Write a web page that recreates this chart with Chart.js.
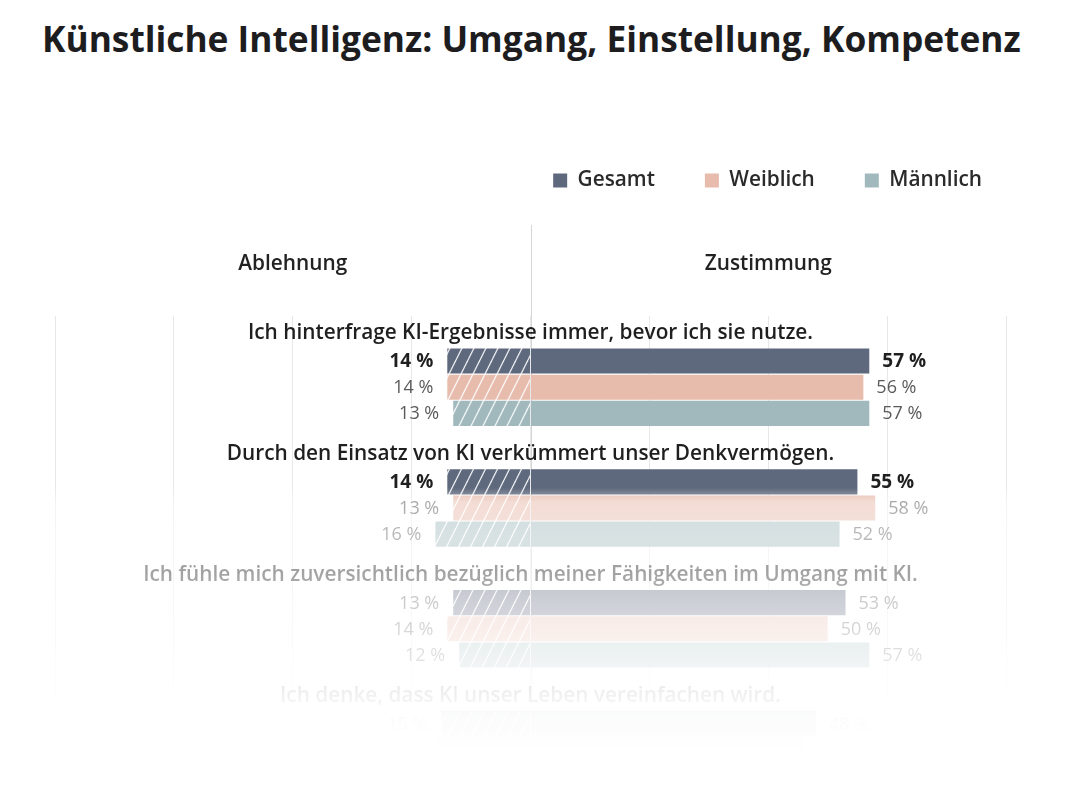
<!DOCTYPE html>
<html lang="de">
<head>
<meta charset="utf-8">
<script src="https://cdn.jsdelivr.net/npm/chart.js"></script>
<style>
  html, body { margin: 0; padding: 0; background: #fff; overflow: hidden; }
  body { width: 1080px; height: 800px; position: relative; }
  h1 {
    position: absolute; left: 42px; top: 14px; margin: 0;
    font-family: "Open Sans"; font-weight: 700; font-size: 35.3px;
    color: #1d1d1f; white-space: nowrap; letter-spacing: 0;
  }
  #wrap { position: absolute; left: 0; top: 0; width: 1080px; height: 810px; }
</style>
</head>
<body>
<h1>Künstliche Intelligenz: Umgang, Einstellung, Kompetenz</h1>
<div id="wrap"><canvas id="chart" width="1080" height="810"></canvas></div>
<script>
const statements = [
    'Ich hinterfrage KI-Ergebnisse immer, bevor ich sie nutze.',
    'Durch den Einsatz von KI verkümmert unser Denkvermögen.',
    'Ich fühle mich zuversichtlich bezüglich meiner Fähigkeiten im Umgang mit KI.',
    'Ich denke, dass KI unser Leben vereinfachen wird.',
]
const seriesNames = ['Gesamt', 'Weiblich', 'Männlich']
const sideLabels = ['Ablehnung', 'Zustimmung']

// Ablehnung (left, hatched) and Zustimmung (right) in %
const ablehnungGesamt = [14, 14, 13, 15]
const zustimmungGesamt = [57, 55, 53, 48]
const ablehnungWeiblich = [14, 13, 14, 16]
const zustimmungWeiblich = [56, 58, 50, 46]
const ablehnungMaennlich = [13, 16, 12, 14]
const zustimmungMaennlich = [57, 52, 57, 50]

const axisMin = -80
const axisMax = 80
const axisStep = 20

const colors = ['#5f697d', '#e8bcad', '#a1b9bd']
const FONT = '"Open Sans", "Noto Sans", sans-serif'

function hatch(color) {
    const c = document.createElement('canvas')
    c.width = 12
    c.height = 24
    const g = c.getContext('2d')
    g.fillStyle = color
    g.fillRect(0, 0, 12, 24)
    g.strokeStyle = 'rgba(255,255,255,0.85)'
    g.lineWidth = 1.4
    for (const dx of [-12, 0, 12]) {
        g.beginPath()
        g.moveTo(dx, 24)
        g.lineTo(dx + 12, 0)
        g.stroke()
    }
    return g.createPattern(c, 'repeat')
}

const neg = v => v.map(x => -x)
const pairs = [
    [ablehnungGesamt, zustimmungGesamt],
    [ablehnungWeiblich, zustimmungWeiblich],
    [ablehnungMaennlich, zustimmungMaennlich],
]
const datasets = []
pairs.forEach(([a, z], i) => {
    datasets.push({
        label: seriesNames[i] + ' Ablehnung',
        data: neg(a),
        backgroundColor: hatch(colors[i]),
        stack: 's' + i,
        series: i,
    })
    datasets.push({
        label: seriesNames[i],
        data: z,
        backgroundColor: colors[i],
        stack: 's' + i,
        series: i,
    })
})

const decor = {
    id: 'decor',
    beforeDatasetsDraw(chart) {
        const {ctx, chartArea, scales: {x}} = chart
        const x0 = Math.round(x.getPixelForValue(0)) + 0.5
        ctx.save()
        ctx.strokeStyle = '#d6d6d6'
        ctx.lineWidth = 1
        ctx.beginPath()
        ctx.moveTo(x0, 225)
        ctx.lineTo(x0, chartArea.bottom)
        ctx.stroke()
        ctx.fillStyle = '#222'
        ctx.font = '600 20.8px ' + FONT
        ctx.textAlign = 'center'
        ctx.textBaseline = 'middle'
        ctx.fillText(sideLabels[0], (x.getPixelForValue(axisMin) + x.getPixelForValue(0)) / 2, 264)
        ctx.fillText(sideLabels[1], (x.getPixelForValue(0) + x.getPixelForValue(axisMax)) / 2, 264)
        ctx.restore()
    },
    afterDatasetsDraw(chart) {
        const {ctx, scales: {x, y}} = chart
        ctx.save()
        ctx.textBaseline = 'middle'
        // statement titles above each group
        ctx.fillStyle = '#1f1f1f'
        ctx.font = '600 20.8px ' + FONT
        ctx.textAlign = 'center'
        statements.forEach((s, i) => {
            ctx.fillText(s, x.getPixelForValue(0), y.getPixelForValue(i) - 54)
        })
        // value labels
        chart.data.datasets.forEach((ds, di) => {
            const meta = chart.getDatasetMeta(di)
            const isNeg = di % 2 === 0
            ctx.textAlign = isNeg ? 'right' : 'left'
            meta.data.forEach((bar, j) => {
                const main = ds.series === 0 && j < 2
                ctx.fillStyle = main ? '#1f1f1f' : '#5a5a5a'
                ctx.font = main ? '700 19px ' + FONT : '400 18px ' + FONT
                const v = Math.abs(ds.data[j])
                const tx = isNeg ? bar.x - 14 : bar.x + 13
                ctx.fillText(v + ' %', tx, bar.y + 1)
            })
        })
        ctx.restore()
    },
    afterDraw(chart) {
        // white fade towards the bottom
        const {ctx, width} = chart
        const g = ctx.createLinearGradient(0, 488, 0, 760)
        const stops = [[488, 0], [502, 0.48], [535, 0.58], [572, 0.58], [600, 0.68], [650, 0.8], [692, 0.93], [715, 0.975], [740, 0.99], [760, 1]]
        stops.forEach(([py, a]) => g.addColorStop((py - 488) / (760 - 488), 'rgba(255,255,255,' + a + ')'))
        ctx.save()
        ctx.fillStyle = g
        ctx.fillRect(0, 488, width, chart.height - 488)
        ctx.restore()
    },
}

new Chart(document.getElementById('chart'), {
    type: 'bar',
    data: {
        labels: statements,
        datasets: datasets,
    },
    options: {
        indexAxis: 'y',
        responsive: false,
        animation: false,
        categoryPercentage: 0.65,
        barPercentage: 0.96,
        layout: { padding: { top: 120, left: 55, right: 48, bottom: 0 } },
        plugins: {
            legend: {
                position: 'top',
                align: 'end',
                labels: {
                    boxWidth: 14,
                    boxHeight: 14,
                    padding: 50,
                    color: '#2a2a2a',
                    font: { family: FONT, size: 20.8, weight: '600' },
                    filter: item => item.datasetIndex % 2 === 1,
                },
            },
            tooltip: { enabled: false },
        },
        scales: {
            x: {
                position: 'top',
                min: axisMin,
                max: axisMax,
                ticks: { display: false, stepSize: axisStep },
                grid: { color: '#e8e8e8', tickColor: '#e8e8e8', drawTicks: true, tickLength: 11 },
                border: { display: false },
                afterFit: s => { s.height = 126 },
            },
            y: {
                position: 'right',
                ticks: { display: false },
                grid: { display: false },
                border: { display: false },
                afterFit: s => { s.width = 26 },
            },
        },
    },
    plugins: [decor],
})
</script>
</body>
</html>
